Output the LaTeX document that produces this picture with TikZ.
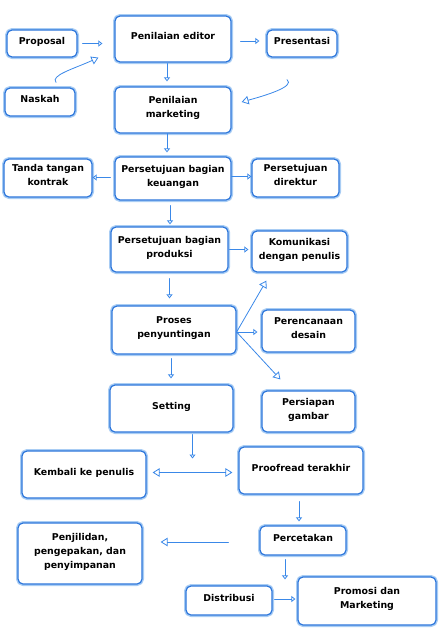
\documentclass[tikz,border=0pt]{standalone}
\usepackage{fontspec}
\setmainfont{DejaVu Sans}
\usetikzlibrary{arrows.meta,calc}
\definecolor{boxline}{HTML}{2C76DB}
\definecolor{boxglow}{HTML}{A9CDF4}
\definecolor{arrline}{HTML}{3A88E8}
\begin{document}
\begin{tikzpicture}[x=1pt,y=1pt, font=\bfseries\fontsize{9.4}{14}\selectfont, line join=round, line cap=round,
    kotak/.style={draw=boxline, line width=1.2pt, rounded corners=5pt, fill=white, align=center, inner sep=0pt,
        preaction={draw=boxglow, line width=4pt}, execute at end node={\rule[-6pt]{0pt}{0pt}}},
    arr/.style={draw=arrline, line width=.8pt, -{Triangle[open,length=4pt,width=6pt]}},
    arrb/.style={draw=arrline, line width=.8pt, -{Triangle[open,length=7pt,width=8.5pt]}}]
    \useasboundingbox (0,0) rectangle (441,-640);
    % kotak-kotak
    \node[kotak, minimum width=70pt, minimum height=27pt] (proposal) at (42,-43.5) {Proposal};
    \node[kotak, minimum width=116pt, minimum height=46pt] (editor) at (173,-39) {Penilaian editor};
    \node[kotak, minimum width=70pt, minimum height=27pt] (presentasi) at (302,-43.5) {Presentasi};
    \node[kotak, minimum width=70pt, minimum height=28pt] (naskah) at (40,-102) {Naskah};
    \node[kotak, minimum width=116pt, minimum height=46pt] (marketing) at (173,-110) {Penilaian\\marketing};
    \node[kotak, minimum width=88pt, minimum height=38pt] (tanda) at (48,-178) {Tanda tangan\\kontrak};
    \node[kotak, minimum width=116pt, minimum height=43pt] (keuangan) at (173,-178.5) {Persetujuan bagian\\keuangan};
    \node[kotak, minimum width=87pt, minimum height=38pt] (direktur) at (295.5,-178) {Persetujuan\\direktur};
    \node[kotak, minimum width=117pt, minimum height=45pt] (produksi) at (169.5,-249.5) {Persetujuan bagian\\produksi};
    \node[kotak, minimum width=95pt, minimum height=41pt] (komunikasi) at (299.5,-251.5) {Komunikasi\\dengan penulis};
    \node[kotak, minimum width=124pt, minimum height=48pt] (proses) at (174,-330) {Proses\\penyuntingan};
    \node[kotak, minimum width=93pt, minimum height=42pt] (desain) at (308.5,-331) {Perencanaan\\desain};
    \node[kotak, minimum width=123pt, minimum height=47pt] (setting) at (171.5,-408.5) {Setting};
    \node[kotak, minimum width=93pt, minimum height=41pt] (gambar) at (308.5,-411.5) {Persiapan\\gambar};
    \node[kotak, minimum width=124pt, minimum height=47pt] (kembali) at (84,-474.5) {Kembali ke penulis};
    \node[kotak, minimum width=124pt, minimum height=47pt] (proofread) at (301,-470.5) {Proofread terakhir};
    \node[kotak, minimum width=124pt, minimum height=61pt] (penjilidan) at (80,-553.5) {Penjilidan,\\pengepakan, dan\\penyimpanan};
    \node[kotak, minimum width=86pt, minimum height=29pt] (percetakan) at (303,-540.5) {Percetakan};
    \node[kotak, minimum width=86pt, minimum height=29pt] (distribusi) at (229,-600.5) {Distribusi};
    \node[kotak, minimum width=138pt, minimum height=48pt] (promosi) at (367,-601) {Promosi dan\\Marketing};
    \coordinate (tengah) at ($(kembali.east)!.5!(proofread.west)$);
    \coordinate (celah) at ($(distribusi.east)!.5!(promosi.west)$);
    % panah
    \draw[arr, shorten <=5pt, shorten >=12pt] (proposal.east) -- (proposal.east -| editor.west);
    \draw[arrb] ([shift={(16pt,5pt)}]naskah.north) .. controls +(-6pt,7pt) and +(-24pt,-11pt) .. ([shift={(-16pt,5pt)}]editor.south west);
    \draw[arr, shorten <=9pt, shorten >=7pt] ([yshift=-2pt]editor.east) -- ([yshift=-2pt]editor.east -| presentasi.west);
    \draw[arr, shorten <=1pt, shorten >=5pt] ([xshift=-6pt]editor.south) -- ([xshift=-6pt]marketing.north);
    \draw[arrb] ([shift={(-15pt,-22pt)}]presentasi.south) .. controls +(9pt,-7pt) and +(22pt,6pt) .. ([shift={(10pt,8pt)}]marketing.east);
    \draw[arr, shorten >=4pt] ([xshift=-6pt]marketing.south) -- ([xshift=-6pt]keuangan.north);
    \draw[arr, shorten <=4pt] ([yshift=1pt]keuangan.west) -- ([yshift=1pt]keuangan.west -| tanda.east);
    \draw[arr] ([yshift=2pt]keuangan.east) -- ([yshift=2pt]keuangan.east -| direktur.west);
    \draw[arr, shorten <=5pt, shorten >=2pt] ([xshift=-3pt]keuangan.south) -- ([xshift=-3pt]keuangan.south |- produksi.north);
    \draw[arr, shorten <=1pt, shorten >=3pt] (produksi.east) -- (produksi.east -| komunikasi.west);
    \draw[arr, shorten <=6pt, shorten >=7pt] (produksi.south) -- (produksi.south |- proses.north);
    \draw[arrb] ([yshift=-2pt]proses.east) -- ([shift={(15pt,-8pt)}]komunikasi.south west);
    \draw[arr, shorten >=4pt] ([yshift=-2pt]proses.east) -- ([yshift=-2pt]proses.east -| desain.west);
    \draw[arrb] ([yshift=-2pt]proses.east) -- ([shift={(19pt,11pt)}]gambar.north west);
    \draw[arr, shorten <=4pt, shorten >=6pt] ([xshift=-3pt]proses.south) -- ([xshift=-3pt]proses.south |- setting.north);
    \draw[arr, shorten <=2pt, shorten >=14pt] (setting.south -| tengah) -- (tengah);
    \draw[arrb, {Triangle[open,length=7pt,width=8.5pt]}-{Triangle[open,length=7pt,width=8.5pt]}, shorten <=6pt, shorten >=6pt] (tengah -| kembali.east) -- (tengah -| proofread.west);
    \draw[arr, shorten <=7pt, shorten >=4pt] ([xshift=-2pt]proofread.south) -- ([xshift=-2pt]proofread.south |- percetakan.north);
    \draw[arrb, shorten <=31pt, shorten >=18pt] ([yshift=-1.5pt]percetakan.west) -- ([yshift=-1.5pt]percetakan.west -| penjilidan.east);
    \draw[arr, shorten <=4pt, shorten >=6pt] (percetakan.south -| celah) -- (celah |- distribusi.north);
    \draw[arr, shorten <=2pt, shorten >=2pt] ([yshift=1.5pt]distribusi.east) -- ([yshift=1.5pt]distribusi.east -| promosi.west);
\end{tikzpicture}
\end{document}
